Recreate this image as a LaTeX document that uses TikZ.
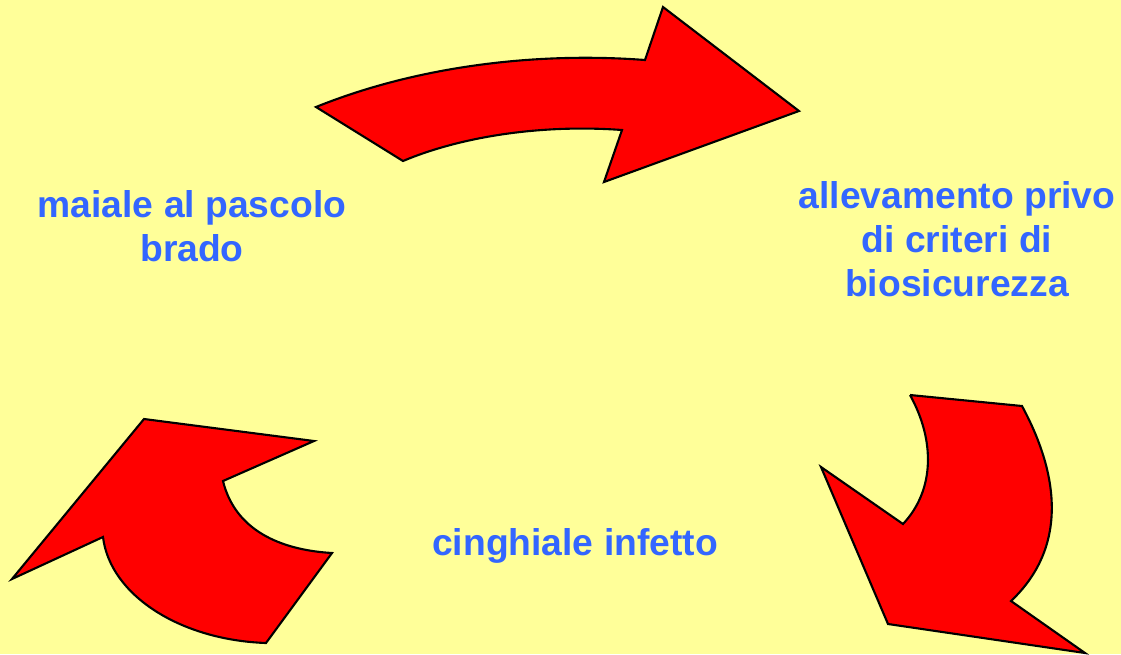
\documentclass[tikz,border=0pt]{standalone}
\usepackage{fontspec}
\setmainfont{Liberation Sans}
\definecolor{Pasture}{HTML}{FFFF99}
\definecolor{ArrowRed}{HTML}{FF0000}
\definecolor{Label}{HTML}{3366FF}

\begin{document}
\begin{tikzpicture}[x=0.1mm,y=-0.1mm,
  every node/.style={font=\bfseries\fontsize{10.6}{12.6}\selectfont,text=Label,align=center},
  cyclearrow/.style={fill=ArrowRed,draw=black,line width=0.6pt,line join=miter}]
\useasboundingbox (0,0) rectangle (1121,654);
\fill[Pasture] (0,0) rectangle (1121,654);
% top arrow
\draw[cyclearrow] (316,107) .. controls (420,65) and (540,52) .. (645,60)
  -- (663,7) -- (799,111) -- (604,182) -- (622,130)
  .. controls (540,124) and (460,137) .. (403,161) -- cycle;
% right arrow
\draw[cyclearrow] (910,395) -- (1022,406)
  .. controls (1062,480) and (1065,550) .. (1011,601)
  -- (1085,653) -- (888,624) -- (821,467) -- (903,524)
  .. controls (935,490) and (935,440) .. (910,395);
% left arrow
\draw[cyclearrow] (144,419) -- (314,441) -- (223,481)
  .. controls (235,530) and (280,550) .. (332,553)
  -- (266,643) .. controls (180,640) and (110,595) .. (103,537)
  -- (12,579) -- cycle;
\node (pasture) at (192,226) {maiale al pascolo\\brado};
\node (farm) at (957,239) {allevamento privo\\di criteri di\\biosicurezza};
\node (boar) at (575,546) {cinghiale infetto};
\end{tikzpicture}
\end{document}
